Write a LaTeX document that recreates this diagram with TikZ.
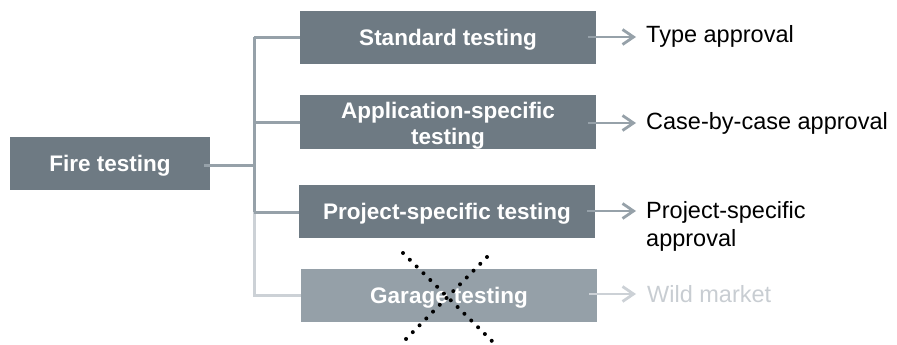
\documentclass[tikz,border=0pt]{standalone}
\usepackage{fontspec}
\setmainfont{Liberation Sans}
\usetikzlibrary{arrows.meta}
\definecolor{boxdark}{RGB}{110,122,131}
\definecolor{boxlight}{RGB}{149,160,168}
\definecolor{conndark}{RGB}{150,161,169}
\definecolor{connlight}{RGB}{204,209,214}
\definecolor{wildgray}{RGB}{200,205,210}
\tikzset{
  tboxbase/.style={fill=boxdark, text=white, font=\fontsize{22.5}{27}\selectfont\bfseries,
    minimum width=296pt, minimum height=53pt, inner sep=0pt, align=center},
  tbox/.style={tboxbase, text height=16.2pt, text depth=0pt},
  conn/.style={draw=conndark, line width=3pt},
  connl/.style={draw=connlight, line width=3pt},
  arr/.style={draw=conndark, line width=2.8pt, -{Straight Barb[length=11pt,width=15pt,line width=2.8pt]}},
  lbl/.style={anchor=west, font=\fontsize{23.5}{28}\selectfont, align=left, inner sep=0pt},
  xdots/.style={line width=4pt, line cap=round, dash pattern=on 0pt off 9.6pt}
}
\begin{document}
\begin{tikzpicture}[x=1pt,y=-1pt]
\useasboundingbox (0,0) rectangle (897,345);
% boxes
\node[tbox, minimum width=200pt] (fire) at (110,163.5) {Fire testing};
\node[tbox] (std) at (448,37.5) {Standard testing};
\node[tboxbase] (app) at (448,122) {\raisebox{-4pt}[\height][\depth]{\begin{tabular}{@{}c@{}}Application-specific\\[-0.5pt]testing\end{tabular}}};
\node[tbox] (proj) at (447,211.5) {Project-specific testing};
\node[tbox, fill=boxlight] (gar) at (449,295.5) {Garage testing};
% trunk coordinates
\coordinate (tTop) at (254,37);
\coordinate (tFire) at (254,165);
\coordinate (tProj) at (254,212);
\coordinate (tBot) at (254,297);
% connectors
\draw[conn] (204,165) -- (tFire);
\draw[conn] (tTop) -- (tProj);
\draw[connl] (tProj) -- (tBot);
\draw[conn] (254,38) -- (std.west |- 0,38);
\draw[conn] (254,122) -- (app.west |- 0,122);
\draw[conn] (254,212) -- (proj.west |- 0,212);
\draw[connl] (254,295) -- (gar.west |- 0,295);
% outputs
\node[lbl] (ltype) at (646,36) {Type approval};
\node[lbl] (lcase) at (646,123) {Case-by-case approval};
\node[lbl, anchor=north west] (lproj) at (646,201) {Project-specific\\approval};
\node[lbl, text=wildgray] (lwild) at (647,294) {Wild market};
\draw[arr] (588,37) -- (636,37);
\draw[arr] (588,123) -- (636,123);
\draw[arr] (587,211) -- (636,211);
\draw[arr, draw=connlight] (589,294) -- (636,294);
% dotted cross
\coordinate (x1a) at (403,253);
\coordinate (x1b) at (496,345);
\coordinate (x2a) at (487,257);
\coordinate (x2b) at (406,339);
\draw[xdots] (x1a) -- (x1b);
\draw[xdots] (x2a) -- (x2b);
\end{tikzpicture}
\end{document}
